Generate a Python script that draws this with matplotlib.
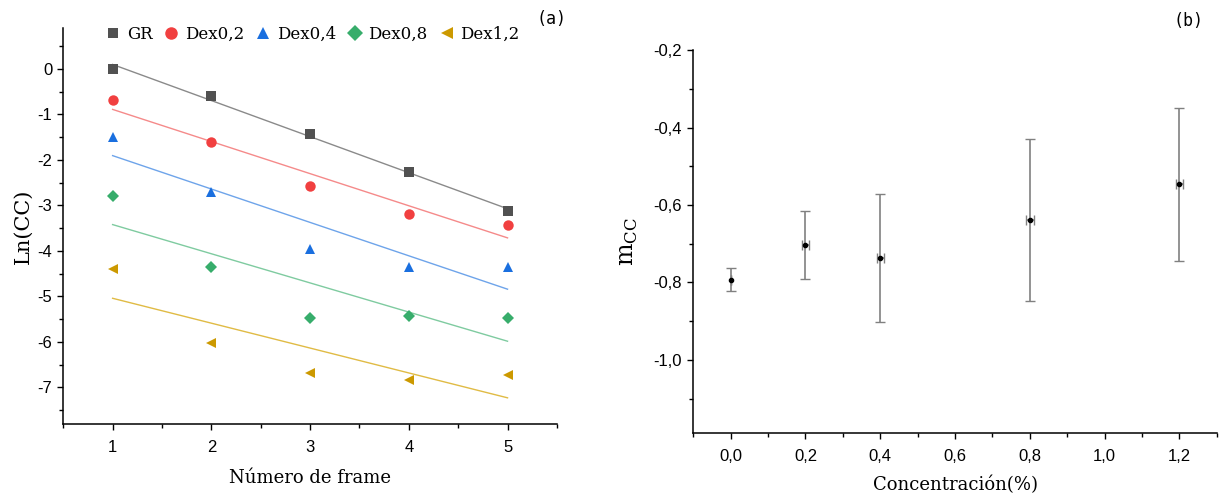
import numpy as np
import matplotlib
matplotlib.use("Agg")
import matplotlib.pyplot as plt

# Panel (a): Ln(CC) per frame for each sample
frames = [1, 2, 3, 4, 5]
series_names = ["GR", "Dex0,2", "Dex0,4", "Dex0,8", "Dex1,2"]
ln_gr = [0.0, -0.60, -1.43, -2.27, -3.13]
ln_dex02 = [-0.69, -1.61, -2.58, -3.19, -3.43]
ln_dex04 = [-1.50, -2.71, -3.95, -4.35, -4.35]
ln_dex08 = [-2.80, -4.35, -5.47, -5.42, -5.47]
ln_dex12 = [-4.40, -6.02, -6.69, -6.83, -6.73]

# Panel (b): fitted slope m_CC vs concentration
concentration = [0.0, 0.2, 0.4, 0.8, 1.2]
m_cc = [-0.793, -0.703, -0.737, -0.639, -0.547]
m_cc_err = [0.030, 0.087, 0.165, 0.210, 0.198]
conc_err = [0.0, 0.01, 0.01, 0.01, 0.01]

_COLORS = ["#515151", "#F14040", "#1A6FDF", "#37AD6B", "#CC9900"]
_LINE_COLORS = ["#8a8a8a", "#f58a8a", "#6ea4ea", "#7fcba0", "#e0bb45"]
_MARKERS = ["s", "o", "^", "D", "<"]
_MSIZES = [6.5, 7.5, 7.5, 6.5, 7.5]
_SERIF = "DejaVu Serif"
_SANS = "Liberation Sans"

plt.rcParams["font.family"] = _SANS
plt.rcParams["font.size"] = 12

fig = plt.figure(figsize=(12.21, 5.01), dpi=100)
ax_a = fig.add_axes([0.0518, 0.154, 0.4043, 0.790])
ax_b = fig.add_axes([0.5678, 0.135, 0.4288, 0.765])


def _style_axes(ax):
    for side in ("top", "right"):
        ax.spines[side].set_visible(False)
    for side in ("left", "bottom"):
        ax.spines[side].set_linewidth(1.1)
    ax.tick_params(which="both", direction="out", width=1.0, labelsize=12)
    ax.tick_params(which="major", length=4.5)
    ax.tick_params(which="minor", length=3)
    ax.tick_params(axis="x", which="major", pad=7)


# ---- panel (a)
all_series = [ln_gr, ln_dex02, ln_dex04, ln_dex08, ln_dex12]
x = np.array(frames, dtype=float)
for name, ys, c, lc, m, ms in zip(series_names, all_series, _COLORS, _LINE_COLORS, _MARKERS, _MSIZES):
    slope, intercept = np.polyfit(x, ys, 1)
    ax_a.plot(x, slope * x + intercept, "-", color=lc, linewidth=1.0, zorder=1)
    ax_a.plot(x, ys, linestyle="none", marker=m, markersize=ms, color=c,
              markeredgewidth=0, label=name, zorder=3)

ax_a.set_xlim(0.5, 5.5)
ax_a.set_ylim(-7.8, 0.9)
ax_a.set_xticks([1, 2, 3, 4, 5])
ax_a.set_xticks(np.arange(0.5, 5.51, 0.5), minor=True)
ax_a.set_yticks(np.arange(-7, 0.1, 1))
ax_a.set_yticks(np.arange(-7.5, 0.6, 0.5), minor=True)
ax_a.set_yticklabels([f"{v:d}" for v in range(-7, 1)])
_style_axes(ax_a)
ax_a.set_xlabel("Número de frame", family=_SERIF, fontsize=13, labelpad=10)
ax_a.set_ylabel("Ln(CC)", family=_SERIF, fontsize=15, labelpad=3)

leg = ax_a.legend(loc="center left", bbox_to_anchor=(0.088, 0.983), ncol=5,
                  frameon=False, borderaxespad=0, borderpad=0, handlelength=0.8,
                  handletextpad=0.4, columnspacing=0.75, markerscale=1.2,
                  prop={"family": _SERIF, "size": 12})

fig.text(0.452, 0.962, "(a)", family="DejaVu Sans Mono", fontsize=12, ha="center", va="center")

# ---- panel (b)
ax_b.errorbar(concentration, m_cc, yerr=m_cc_err, xerr=conc_err, fmt="o",
              markersize=3, color="black", ecolor="#808080", elinewidth=1.2,
              capsize=3.5, capthick=1.0, zorder=3)
ax_b.set_xlim(-0.1, 1.3)
ax_b.set_ylim(-1.19, -0.2)
ax_b.set_xticks(np.arange(0.0, 1.21, 0.2))
ax_b.set_xticks(np.arange(-0.1, 1.31, 0.1), minor=True)
ax_b.set_xticklabels([f"{v:.1f}".replace(".", ",") for v in np.arange(0.0, 1.21, 0.2)])
ax_b.set_yticks(np.arange(-1.0, -0.19, 0.2))
ax_b.set_yticks(np.arange(-1.1, -0.19, 0.1), minor=True)
ax_b.set_yticklabels([f"{v:.1f}".replace(".", ",") for v in np.arange(-1.0, -0.19, 0.2)])
_style_axes(ax_b)
ax_b.set_xlabel("Concentración(%)", family=_SERIF, fontsize=13, labelpad=8)
ax_b.set_ylabel(r"m$_{\mathregular{CC}}$", family=_SERIF, fontsize=17, labelpad=10)

fig.text(0.973, 0.958, "(b)", family="DejaVu Sans Mono", fontsize=12, ha="center", va="center")

fig.savefig("out.png", dpi=100)
plt.close(fig)
